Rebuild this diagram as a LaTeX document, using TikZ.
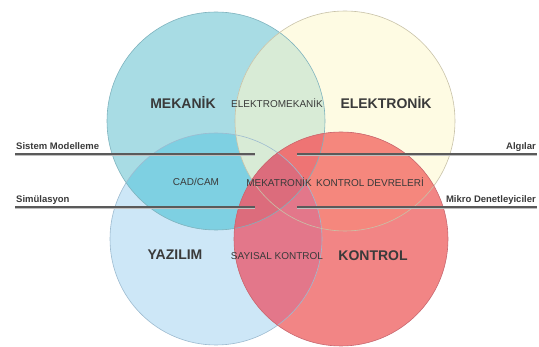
\documentclass[tikz,border=0pt]{standalone}
\usepackage{fontspec}
\setmainfont{Liberation Sans}
\definecolor{cTL}{HTML}{A8DCE4}
\definecolor{cTR}{HTML}{FEFBE3}
\definecolor{cBL}{HTML}{CDE7F7}
\definecolor{cBR}{HTML}{F28585}
\definecolor{cTLTR}{HTML}{D8EBD6}
\definecolor{cTLBL}{HTML}{7ED0E2}
\definecolor{cTRBR}{HTML}{F5877D}
\definecolor{cBLBR}{HTML}{E3778A}
\definecolor{cTLBR}{HTML}{EE7474}
\definecolor{cTLBLBR}{HTML}{DC6C7C}
\definecolor{eTL}{HTML}{7FB3BE}
\definecolor{eTR}{HTML}{C8C2A8}
\definecolor{eBL}{HTML}{9DBBD0}
\definecolor{eBR}{HTML}{C86870}
\definecolor{txt}{HTML}{3A3A3A}
\definecolor{rulec}{HTML}{5A5A5A}
\begin{document}
\begin{tikzpicture}[x=1pt,y=-1pt,
  lbl/.style={font=\bfseries\fontsize{14}{14}\selectfont, text=txt, inner sep=0pt},
  sm/.style={font=\fontsize{10}{10}\selectfont, text=txt, inner sep=0pt},
  side/.style={font=\bfseries\fontsize{9.5}{9.5}\selectfont, text=txt, inner sep=0pt},
  rule/.style={draw=rulec, line width=1.8pt},
  shade/.style={draw=black!25, line width=0.8pt},
  edge/.style={line width=0.6pt}]
\useasboundingbox (0,0) rectangle (539,347);
\def\TL{(216,121) circle[radius=109pt]}
\def\TR{(345,121) circle[radius=110pt]}
\def\BL{(216,239) circle[radius=106pt]}
\def\BR{(341,239) circle[radius=107pt]}
% base fills
\fill[cBL] \BL;
\fill[cTL] \TL;
\fill[cTR] \TR;
\fill[cBR] \BR;
% overlaps
\begin{scope}
  \clip \TL;
  \fill[cTLBL] \BL;
  \fill[cTLTR] \TR;
\end{scope}
\begin{scope}
  \clip \BR;
  \fill[cTRBR] \TR;
  \fill[cBLBR] \BL;
  \fill[cTLBR] \TL;
  \begin{scope}
    \clip \TL;
    \fill[cTLBLBR] \BL;
  \end{scope}
\end{scope}
% outlines
\draw[edge, eBL] \BL;
\draw[edge, eTL] \TL;
\draw[edge, eTR] \TR;
\draw[edge, eBR] \BR;
% text
\node[lbl] (mek) at (183,103) {MEKANİK};
\node[sm]  (elm) at (277,103) {ELEKTROMEKANİK};
\node[lbl] (elk) at (386,103) {ELEKTRONİK};
\node[sm]  (cad) at (196,182) {CAD/CAM};
\node[sm]  (mkt) at (279,182) {MEKATRONİK};
\node[sm]  (kd)  at (370,182) {KONTROL DEVRELERİ};
\node[lbl] (yaz) at (175,255) {YAZILIM};
\node[sm]  (say) at (277,256) {SAYISAL KONTROL};
\node[lbl] (kon) at (373,256) {KONTROL};
% side labels and rules
\node[side, anchor=base west] (sis) at (16,150) {Sistem Modelleme};
\node[side, anchor=base west] (sim) at (16,203) {Simülasyon};
\node[side, anchor=base east] (alg) at (536,150) {Algılar};
\node[side, anchor=base east] (mik) at (536,203) {Mikro Denetleyiciler};
\coordinate (la1) at (15,154);
\coordinate (lb1) at (255,154);
\coordinate (ra1) at (297,154);
\coordinate (rb1) at (537,154);
\coordinate (la2) at (15,207);
\coordinate (lb2) at (255,207);
\coordinate (ra2) at (297,207);
\coordinate (rb2) at (537,207);
\draw[shade] ([yshift=-1.6pt]la1) -- ([yshift=-1.6pt]lb1);
\draw[shade] ([yshift=-1.6pt]ra1) -- ([yshift=-1.6pt]rb1);
\draw[shade] ([yshift=-1.6pt]la2) -- ([yshift=-1.6pt]lb2);
\draw[shade] ([yshift=-1.6pt]ra2) -- ([yshift=-1.6pt]rb2);
\draw[rule] (la1) -- (lb1);
\draw[rule] (ra1) -- (rb1);
\draw[rule] (la2) -- (lb2);
\draw[rule] (ra2) -- (rb2);
\end{tikzpicture}
\end{document}
